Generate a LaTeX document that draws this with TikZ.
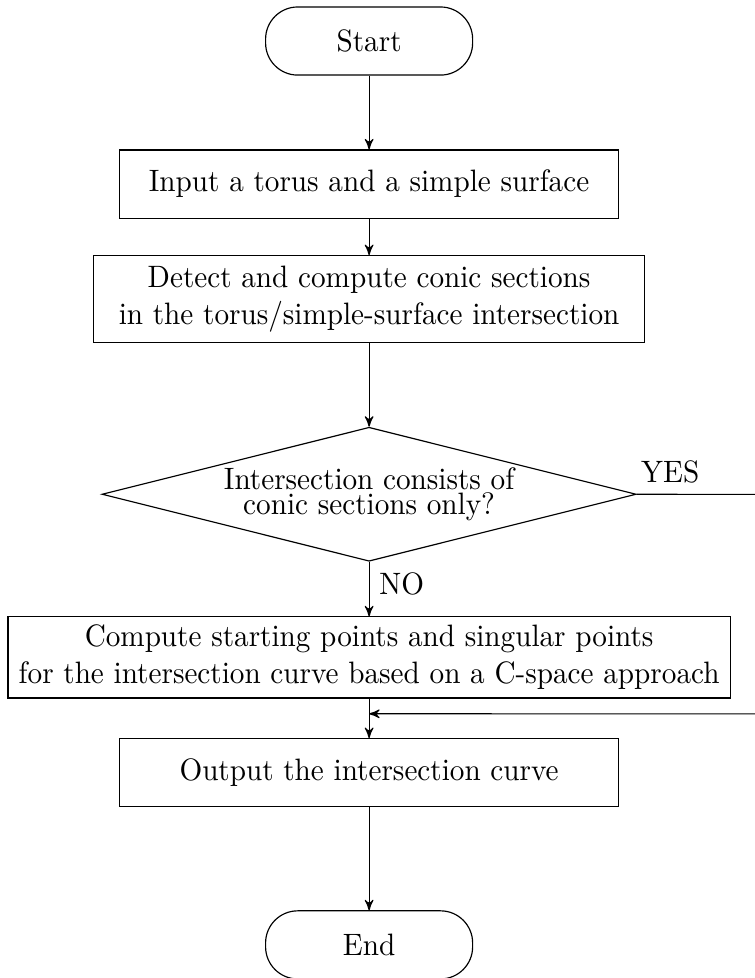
\documentclass[tikz,border=0pt]{standalone}
\usetikzlibrary{shapes.geometric,arrows,positioning}
\begin{document}
\begin{tikzpicture}[->,>=stealth',thin,yscale=1.06,transform shape,
  term/.style={rectangle,draw,rounded corners=11pt,minimum width=70.9pt,minimum height=22pt},
  box/.style={rectangle,draw,align=center,inner xsep=3pt,inner ysep=1pt},
  test/.style={diamond,draw,align=center,aspect=4,inner sep=-3pt,minimum width=182.9pt,minimum height=43.3pt}]

  \useasboundingbox (-126.4pt,13.25pt) rectangle (131.8pt,-302.7pt);

  \node[term] (start) {Start};
  \node[box,minimum width=170.9pt,minimum height=22pt,node distance=46.2pt] (input) [below of=start] {Input a torus and a simple surface};
  \node[box,minimum width=188.7pt,minimum height=28.1pt,node distance=37.2pt] (conic) [below of=input] {Detect and compute conic sections\\in the torus/simple-surface intersection};
  \node[test,node distance=63pt] (check) [below of=conic] {Intersection consists of\\[-4pt]conic sections only?};
  \node[box,minimum width=247.3pt,minimum height=26.2pt,node distance=52.7pt] (cspace) [below of=check] {Compute starting points and singular points\\for the intersection curve based on a C-space approach};
  \node[box,minimum width=170.9pt,minimum height=22pt,node distance=37.2pt] (output) [below of=cspace] {Output the intersection curve};
  \node[term,node distance=55.6pt] (end) [below of=output] {End};

  \coordinate (edge) at (132.5pt,0);
  \coordinate (yesend) at (check.east -| edge);
  \coordinate[below=4.85pt of cspace.south] (join);
  \coordinate (back) at (join -| edge);

  \path (start) edge (input)
    (input) edge (conic)
    (conic) edge (check)
    (check) edge node[pos=0,below right] {NO} (cspace)
    (cspace) edge (output)
    (output) edge (end);
  \draw[-] (check.east) -- node[pos=0,above right,xshift=-2pt] {YES} (yesend);
  \draw (back) -- (join);
\end{tikzpicture}
\end{document}
